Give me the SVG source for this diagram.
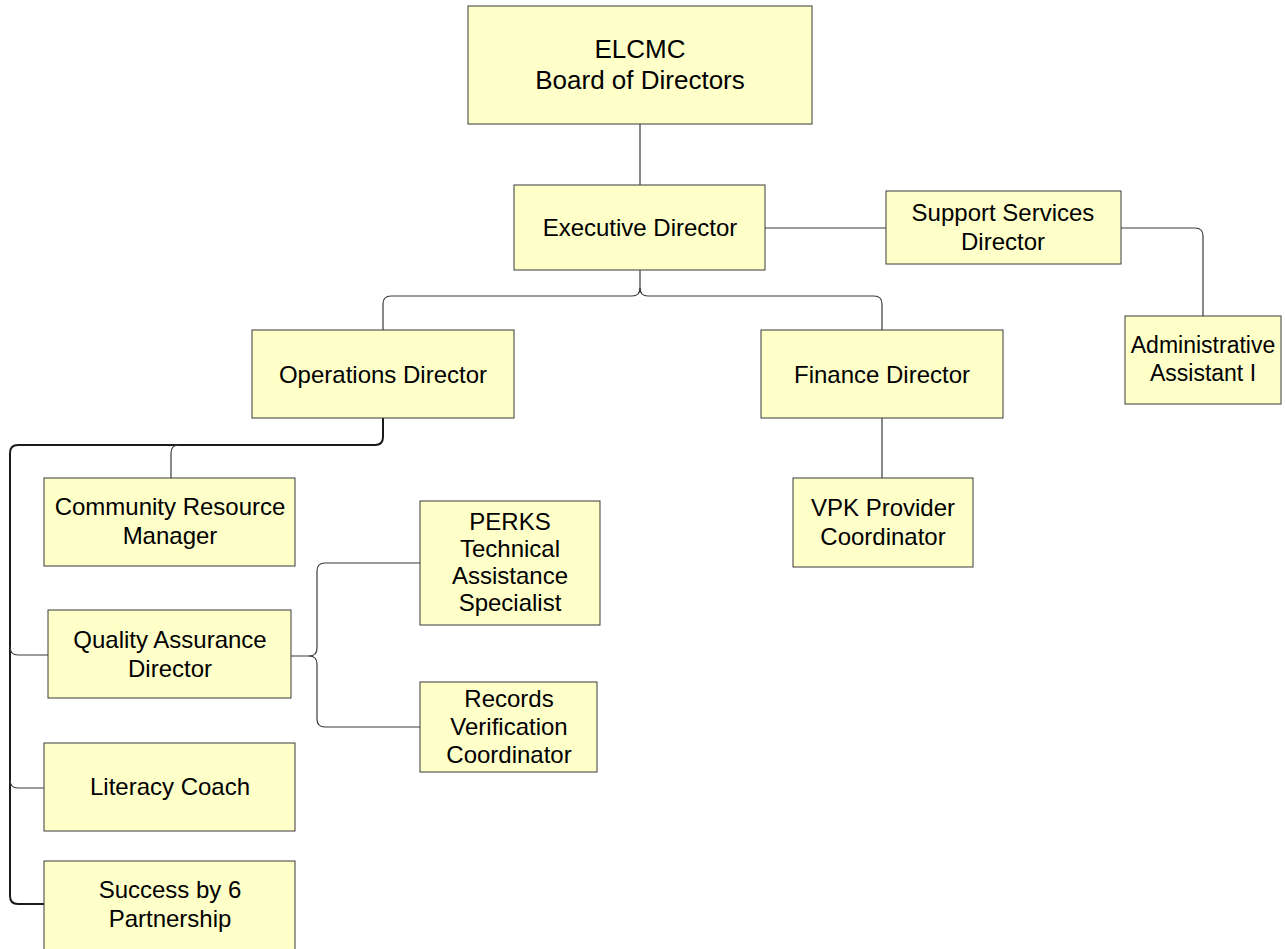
<svg xmlns="http://www.w3.org/2000/svg" width="1285" height="949" viewBox="0 0 1285 949">
<style>
.box{fill:#FFFFC9;stroke:#3a3a3a;stroke-width:1}
.t{font-family:"Liberation Sans",Arial,sans-serif;font-size:24px;fill:#000;text-anchor:middle}
.t2{font-size:26px}
.t3{font-size:23px}
.c{fill:none;stroke:#3a3a3a;stroke-width:1.2}
.c2{fill:none;stroke:#1a1a1a;stroke-width:2}
</style>
<rect width="1285" height="949" fill="#fff"/>
<g id="connectors">
<path class="c" d="M640 124V185"/>
<path class="c" d="M765 228H886"/>
<path class="c" d="M1121 228H1195Q1203 228 1203 236V316"/>
<path class="c" d="M640 270V288Q640 296 632 296H391Q383 296 383 304V330"/>
<path class="c" d="M640 288Q640 296 648 296H874Q882 296 882 304V330"/>
<path class="c2" d="M383 418V437Q383 445 375 445H18Q10 445 10 453V896Q10 904 18 904H44"/>
<path class="c" d="M171 478V453Q171 445 179 445"/>
<path class="c" d="M10 647Q10 655 18 655H48"/>
<path class="c" d="M10 780Q10 788 18 788H44"/>
<path class="c" d="M291 656H309Q317 656 317 648V571Q317 563 325 563H420"/>
<path class="c" d="M309 656Q317 656 317 664V719Q317 727 325 727H420"/>
<path class="c" d="M882 418V478"/>
</g>
<g id="board"><rect class="box" x="468" y="6" width="344" height="118"/><text class="t t2" x="640" y="58">ELCMC</text><text class="t t2" x="640" y="89">Board of Directors</text></g>
<g id="exec"><rect class="box" x="514" y="185" width="251" height="85"/><text class="t" x="640" y="236">Executive Director</text></g>
<g id="support"><rect class="box" x="886" y="191" width="235" height="73"/><text class="t" x="1003" y="221">Support Services</text><text class="t" x="1003" y="250">Director</text></g>
<g id="ops"><rect class="box" x="252" y="330" width="262" height="88"/><text class="t" x="383" y="383">Operations Director</text></g>
<g id="finance"><rect class="box" x="761" y="330" width="242" height="88"/><text class="t" x="882" y="383">Finance Director</text></g>
<g id="admin"><rect class="box" x="1125" y="316" width="156" height="88"/><text class="t t3" x="1203" y="353">Administrative</text><text class="t t3" x="1203" y="381">Assistant I</text></g>
<g id="vpk"><rect class="box" x="793" y="478" width="180" height="89"/><text class="t" x="883" y="516">VPK Provider</text><text class="t" x="883" y="545">Coordinator</text></g>
<g id="community"><rect class="box" x="44" y="478" width="251" height="88"/><text class="t" x="170" y="515">Community Resource</text><text class="t" x="170" y="544">Manager</text></g>
<g id="perks"><rect class="box" x="420" y="501" width="180" height="124"/><text class="t" x="510" y="530">PERKS</text><text class="t" x="510" y="557">Technical</text><text class="t" x="510" y="584">Assistance</text><text class="t" x="510" y="611">Specialist</text></g>
<g id="qa"><rect class="box" x="48" y="610" width="243" height="88"/><text class="t" x="170" y="648">Quality Assurance</text><text class="t" x="170" y="677">Director</text></g>
<g id="records"><rect class="box" x="420" y="682" width="177" height="90"/><text class="t" x="509" y="707">Records</text><text class="t" x="509" y="735">Verification</text><text class="t" x="509" y="763">Coordinator</text></g>
<g id="literacy"><rect class="box" x="44" y="743" width="251" height="88"/><text class="t" x="170" y="795">Literacy Coach</text></g>
<g id="success"><rect class="box" x="44" y="861" width="251" height="95"/><text class="t" x="170" y="898">Success by 6</text><text class="t" x="170" y="927">Partnership</text></g>
</svg>
